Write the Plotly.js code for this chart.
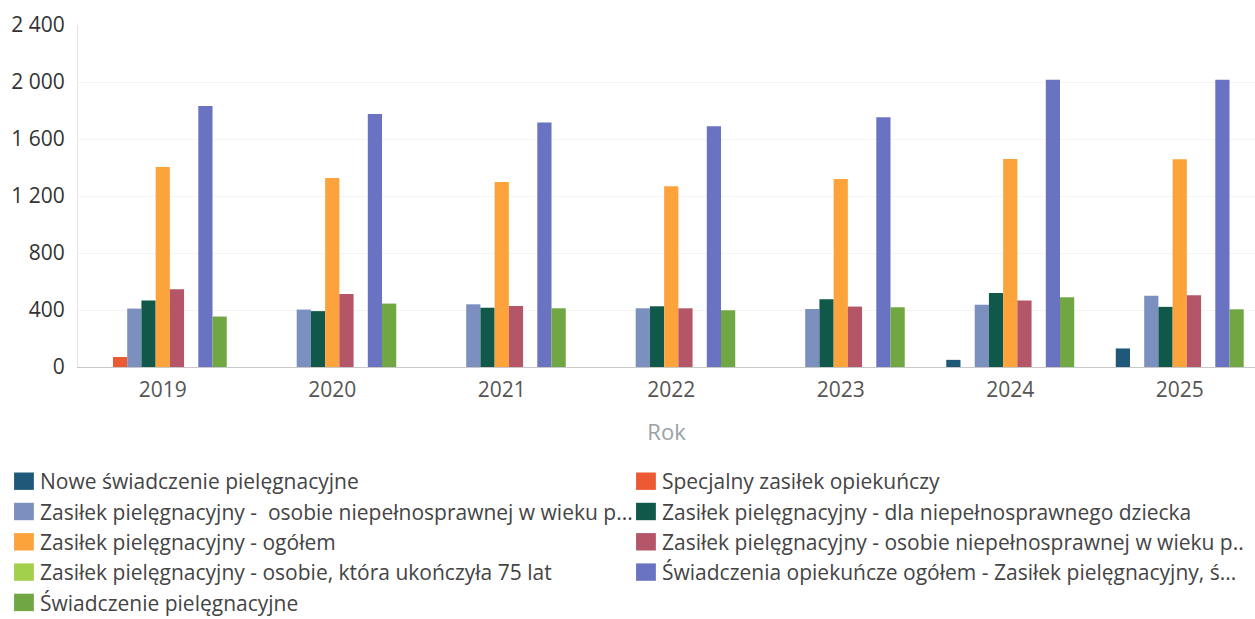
<!DOCTYPE html>
<html>
<head>
<meta charset="utf-8">
<script src="https://cdn.plot.ly/plotly-3.0.1.min.js"></script>
<style>html,body{margin:0;padding:0;background:#fff;}#chart{width:1255px;height:619px;}</style>
</head>
<body>
<div id="chart"></div>
<script>
const years = ["2019", "2020", "2021", "2022", "2023", "2024", "2025"];

const seriesNames = [
  "Nowe świadczenie pielęgnacyjne",
  "Specjalny zasiłek opiekuńczy",
  "Zasiłek pielęgnacyjny -  osobie niepełnosprawnej w wieku p...",
  "Zasiłek pielęgnacyjny - dla niepełnosprawnego dziecka",
  "Zasiłek pielęgnacyjny - ogółem",
  "Zasiłek pielęgnacyjny - osobie niepełnosprawnej w wieku p...",
  "Zasiłek pielęgnacyjny - osobie, która ukończyła 75 lat",
  "Świadczenia opiekuńcze ogółem - Zasiłek pielęgnacyjny, ś...",
  "Świadczenie pielęgnacyjne"
];

const nowe          = [null, null, null, null, null, 50, 130];
const specjalny     = [70, null, null, null, null, null, null];
const zpNiepWiek1   = [410, 403, 440, 412, 407, 437, 500];
const zpDziecko     = [466, 392, 416, 426, 475, 520, 422];
const zpOgolem      = [1404, 1327, 1299, 1268, 1320, 1460, 1458];
const zpNiepWiek2   = [545, 512, 428, 412, 424, 466, 503];
const zp75          = [null, null, null, null, null, null, null];
const swOgolem      = [1832, 1776, 1715, 1690, 1753, 2015, 2015];
const swPiel        = [354, 445, 412, 398, 419, 490, 405];

const seriesValues = [nowe, specjalny, zpNiepWiek1, zpDziecko, zpOgolem, zpNiepWiek2, zp75, swOgolem, swPiel];
const colors = ["#1f5878", "#ec5a34", "#7c90c0", "#0f584a", "#fca33c", "#b45668", "#a2d04c", "#6a72c2", "#70a743"];

const yTicks = [0, 400, 800, 1200, 1600, 2000, 2400];

const traces = seriesNames.map((n, i) => ({
  type: "bar",
  name: n,
  x: years,
  y: seriesValues[i],
  marker: {color: colors[i]},
  hoverinfo: "x+y+name"
}));

const layout = {
  width: 1255,
  height: 619,
  paper_bgcolor: "#fff",
  plot_bgcolor: "#fff",
  separators: ", ",
  font: {family: "Open Sans, Noto Sans, sans-serif", color: "#444"},
  margin: {l: 78, r: 0, t: 25, b: 252, autoexpand: false},
  barmode: "group",
  bargap: 0.245,
  bargroupgap: 0,
  showlegend: true,
  xaxis: {
    type: "category",
    range: [-0.5, 6.444],
    showgrid: false,
    showline: true,
    linecolor: "#c8c8c8",
    linewidth: 1,
    ticks: "outside",
    ticklen: 4,
    tickcolor: "rgba(0,0,0,0)",
    tickfont: {size: 21, color: "#555"},
    title: {text: "Rok", font: {size: 22, color: "#9aa0a6"}, standoff: 22},
    zeroline: false
  },
  yaxis: {
    range: [0, 2400],
    tickvals: yTicks,
    tickformat: ",d",
    showgrid: true,
    gridcolor: "#f4f4f4",
    showline: true,
    linecolor: "#e4e4e4",
    zeroline: false,
    ticks: "outside",
    ticklen: 8,
    tickcolor: "rgba(0,0,0,0)",
    tickfont: {size: 21, color: "#333"}
  },
  legend: {
    orientation: "h",
    x: -0.0663,
    xanchor: "left",
    y: -0.275,
    yanchor: "top",
    entrywidth: 577,
    entrywidthmode: "pixels",
    font: {size: 21, color: "#444"},
    tracegroupgap: 0,
    itemclick: false
  }
};

function bigSwatches() {
  document.querySelectorAll("#chart .legend .legendpoints path").forEach(p => {
    if (!p.hasAttribute("data-orig")) p.setAttribute("data-orig", p.getAttribute("transform") || "");
    p.setAttribute("transform", p.getAttribute("data-orig") + " translate(4,0) scale(1.65,1.45)");
  });
}

const gd = document.getElementById("chart");
Plotly.newPlot(gd, traces, layout, {displayModeBar: false, responsive: false}).then(() => {
  bigSwatches();
  gd.on("plotly_afterplot", bigSwatches);
});
</script>
</body>
</html>
